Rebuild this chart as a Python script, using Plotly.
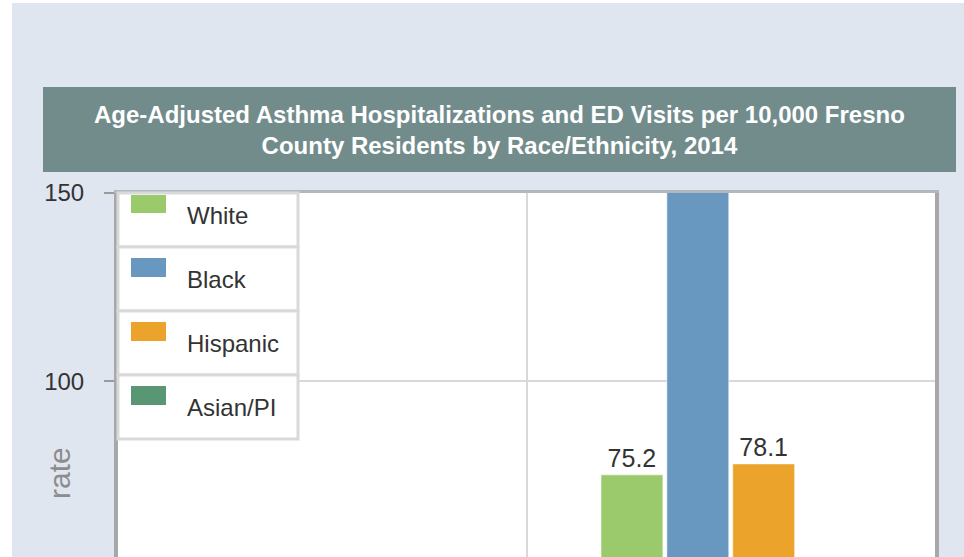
import plotly.graph_objects as go

# Rates per 10,000 residents, Fresno County, 2014
categories = ["Hospitalizations", "ED Visits"]
groups = ["White", "Black", "Hispanic", "Asian/PI"]
white = [6.1, 75.2]
black = [27.4, 236.5]
hispanic = [7.3, 78.1]
asian_pi = [4.2, 24.6]
series = [white, black, hispanic, asian_pi]
colors = ["#9aca6b", "#6897c0", "#eba32b", "#589674"]
y_ticks = [0, 50, 100, 150]
y_range = [53.4, 150]

W, H = 964, 557
L, R, T, B = 118, 29, 193, 0
PW, PH = W - L - R, H - T - B


def fx(px):
    return (px - L) / PW


def fy(py):
    return (H - B - py) / PH


FONT = "Arial, Liberation Sans, sans-serif"

fig = go.Figure()
for name, vals, col in zip(groups, series, colors):
    # value labels only where the bar end falls inside the visible y range
    labels = [f"{v:.1f}" if y_range[0] < v < y_range[1] else "" for v in vals]
    fig.add_trace(go.Bar(
        name=name, x=categories, y=vals,
        marker=dict(color=col, line=dict(color="rgba(255,255,255,0.55)", width=1)),
        text=labels, textposition="outside",
        textfont=dict(family=FONT, size=25, color="#333333"),
        cliponaxis=True,
    ))

shapes = [
    # page edge strips
    dict(type="rect", xref="paper", yref="paper", x0=fx(0), x1=fx(12), y0=fy(H), y1=fy(0),
         fillcolor="white", line=dict(width=0), layer="below"),
    dict(type="rect", xref="paper", yref="paper", x0=fx(0), x1=fx(W), y0=fy(3), y1=fy(0),
         fillcolor="white", line=dict(width=0), layer="below"),
    # title banner
    dict(type="rect", xref="paper", yref="paper", x0=fx(43), x1=fx(956), y0=fy(172), y1=fy(87),
         fillcolor="#728c8c", line=dict(width=0), layer="below"),
]

annotations = [
    dict(xref="paper", yref="paper", x=fx(499.5), y=fy(129.5), xanchor="center", yanchor="middle",
         showarrow=False,
         text="<b>Age-Adjusted Asthma Hospitalizations and ED Visits per 10,000 Fresno<br>"
              "County Residents by Race/Ethnicity, 2014</b>",
         font=dict(family=FONT, size=24, color="white")),
    dict(xref="paper", yref="paper", x=fx(59), y=fy(473), xanchor="center", yanchor="middle",
         showarrow=False, text="rate", textangle=-90,
         font=dict(family=FONT, size=30, color="#8c8c8c")),
]

# boxed legend in the upper-left corner of the plot
cell_h = 64
for i, (name, col) in enumerate(zip(groups, colors)):
    top = 183 + i * cell_h
    bot = top + cell_h
    shapes.append(dict(type="rect", xref="paper", yref="paper",
                       x0=fx(118), x1=fx(298), y0=fy(bot), y1=fy(max(top, 193)),
                       fillcolor="white", line=dict(color="#d9d9d9", width=3), layer="above"))
    shapes.append(dict(type="rect", xref="paper", yref="paper",
                       x0=fx(131), x1=fx(166), y0=fy(top + 30), y1=fy(max(top + 11, 195)),
                       fillcolor=col, line=dict(width=0), layer="above"))
    annotations.append(dict(xref="paper", yref="paper", x=fx(185), y=fy(top + 32),
                            xanchor="left", yanchor="middle", showarrow=False, text=name,
                            font=dict(family=FONT, size=24, color="#333333")))

fig.update_layout(
    width=W, height=H,
    margin=dict(l=L, r=R, t=T, b=B),
    paper_bgcolor="#dfe6f0", plot_bgcolor="white",
    barmode="group", bargap=0.355, bargroupgap=0.06,
    showlegend=False,
    shapes=shapes, annotations=annotations,
    xaxis=dict(type="category", tickson="boundaries", showticklabels=False, ticks="",
               showgrid=True, gridcolor="#d9d9d9", gridwidth=2,
               showline=True, mirror=True, linecolor="#b4b8bc", linewidth=3,
               automargin=False, fixedrange=True),
    yaxis=dict(range=y_range, tickvals=y_ticks, ticks="outside", ticklen=10,
               tickcolor="#9a9a9a", tickwidth=2, ticklabelstandoff=15,
               showline=True, mirror=True, linecolor="#a8a8a8", linewidth=4,
               showgrid=True, gridcolor="#d9d9d9", gridwidth=2, zeroline=False,
               tickfont=dict(family=FONT, size=24, color="#333333"),
               automargin=False, fixedrange=True),
)

fig.write_html("out.html")
